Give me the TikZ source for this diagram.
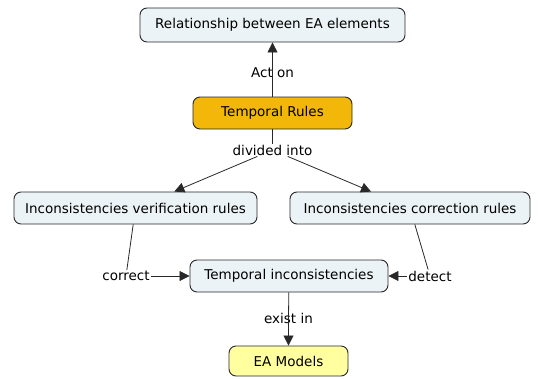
\documentclass[tikz,border=0pt]{standalone}
\usepackage{fontspec}
\setmainfont{DejaVu Sans}
\usepackage{tikz}
\usetikzlibrary{arrows.meta}
\definecolor{conceptfill}{RGB}{236,243,246}
\definecolor{rulesfill}{RGB}{242,183,8}
\definecolor{modelfill}{RGB}{255,255,160}
\definecolor{edgegray}{RGB}{40,40,40}

\begin{document}
\begin{tikzpicture}[x=1pt,y=-1pt,
		concept/.style={draw=edgegray,line width=0.9pt,rounded corners=7pt,fill=conceptfill,minimum height=32pt,inner sep=0pt,font=\fontsize{13.5}{16}\selectfont},
		lbl/.style={inner sep=1pt,font=\fontsize{13.5}{16}\selectfont},
		link/.style={draw=edgegray,line width=0.8pt},
		tip/.style={-{Triangle[length=10pt,width=10pt]}}]
			
			\useasboundingbox (0,0) rectangle (541,378);
			
			\node[concept,minimum width=265pt,minimum height=34pt] (REL) at (272.5,25) {Relationship between EA elements};
			\node[concept,fill=rulesfill,minimum width=159pt] (TR) at (272.5,113) {Temporal Rules};
			\node[concept,minimum width=243pt] (IVR) at (135.5,208) {Inconsistencies verification rules};
			\node[concept,minimum width=240pt] (ICR) at (410,208) {Inconsistencies correction rules};
			\node[concept,minimum width=198pt] (TI) at (289,276) {Temporal inconsistencies};
			\node[concept,fill=modelfill,minimum width=119pt,minimum height=30pt] (EA) at (288.5,361) {EA Models};
			
			\node[lbl] (acton) at (272.5,73) {Act on};
			\node[lbl] (divided) at (272.5,150) {divided into};
			\node[lbl] (correct) at (126,276) {correct};
			\node[lbl] (detect) at (430,276) {detect};
			\node[lbl] (existin) at (288.5,318) {exist in};
			
			\draw[link] (TR) -- (acton.center);
			\draw[link,tip] (acton.center) -- (REL);
			
			\draw[link] (TR) -- (divided);
			\draw[link,tip] (divided) -- (IVR);
			\draw[link,tip] (divided) -- (ICR);
			
			\draw[link] (IVR) -- (correct);
			\draw[link,tip] (correct) -- (TI);
			\draw[link] (ICR) -- (detect);
			\draw[link,tip] (detect) -- (TI);
			
			\draw[link] (TI) -- (existin.center);
			\draw[link,tip] (existin.center) -- (EA);
			
		\end{tikzpicture}
\end{document}
